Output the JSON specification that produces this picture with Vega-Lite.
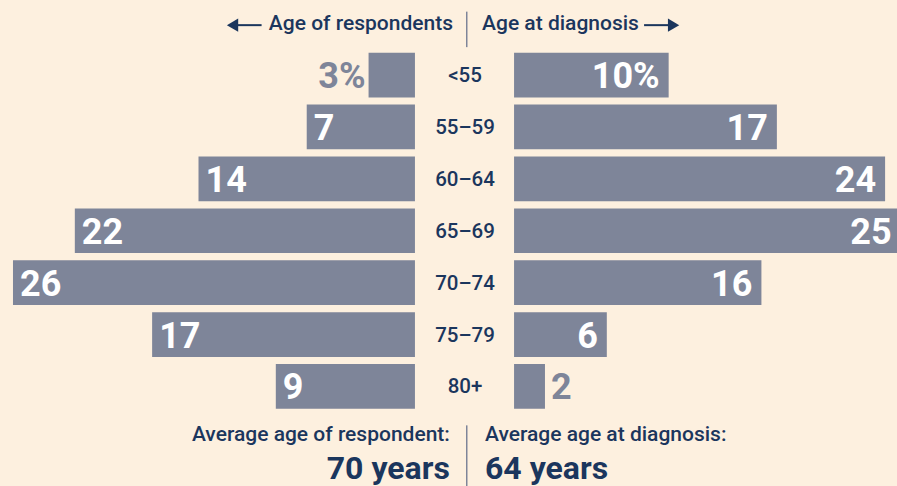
{
  "$schema": "https://vega.github.io/schema/vega-lite/v6.json",
  "width": 897,
  "height": 486,
  "autosize": "none",
  "padding": 0,
  "background": "#fdf0df",
  "config": {"view": {"stroke": null}, "font": "Roboto"},
  "data": {
    "values": [
      {"age": "<55", "respondents": 3, "diagnosis": 10},
      {"age": "55–59", "respondents": 7, "diagnosis": 17},
      {"age": "60–64", "respondents": 14, "diagnosis": 24},
      {"age": "65–69", "respondents": 22, "diagnosis": 25},
      {"age": "70–74", "respondents": 26, "diagnosis": 16},
      {"age": "75–79", "respondents": 17, "diagnosis": 6},
      {"age": "80+", "respondents": 9, "diagnosis": 2}
    ]
  },
  "encoding": {
    "y": {
      "field": "age",
      "type": "nominal",
      "sort": null,
      "axis": null,
      "scale": {
        "type": "band",
        "domain": ["hdr", "<55", "55–59", "60–64", "65–69", "70–74", "75–79", "80+", "ftr"],
        "range": [0.8, 460.7],
        "paddingInner": 0.139,
        "paddingOuter": 0
      }
    }
  },
  "layer": [
    {
      "layer": [
        {
          "mark": {"type": "bar", "color": "#7e8599"},
          "encoding": {
            "x": {"field": "respondents", "type": "quantitative", "axis": null, "scale": {"domain": [-31.18, 26.84], "reverse": true, "nice": false, "zero": false}},
            "x2": {"datum": 0}
          }
        },
        {
          "transform": [{"filter": "datum.respondents >= 5"}],
          "mark": {"type": "text", "align": "left", "baseline": "middle", "dx": 7, "dy": 2, "fontSize": 36, "fontWeight": "bold", "color": "#ffffff"},
          "encoding": {
            "x": {"field": "respondents", "type": "quantitative", "axis": null, "scale": {"domain": [-31.18, 26.84], "reverse": true, "nice": false, "zero": false}},
            "text": {"field": "respondents", "type": "quantitative"}
          }
        },
        {
          "transform": [
            {"filter": "datum.respondents < 5"},
            {"calculate": "datum.age == '<55' ? datum.respondents + '%' : '' + datum.respondents", "as": "lbl"}
          ],
          "mark": {"type": "text", "align": "right", "baseline": "middle", "dx": -3, "dy": 2, "fontSize": 36, "fontWeight": "bold", "color": "#7e8599"},
          "encoding": {
            "x": {"field": "respondents", "type": "quantitative", "axis": null, "scale": {"domain": [-31.18, 26.84], "reverse": true, "nice": false, "zero": false}},
            "text": {"field": "lbl", "type": "nominal"}
          }
        },
        {
          "data": {"values": [{"t": "Age of respondents"}]},
          "mark": {"type": "text", "align": "right", "baseline": "middle", "fontSize": 21, "fontWeight": 500, "color": "#1b365d", "dy": 1},
          "encoding": {
            "x": {"datum": -2.46, "type": "quantitative", "scale": {"domain": [-31.18, 26.84], "reverse": true, "nice": false, "zero": false}},
            "y": {"datum": "hdr"},
            "text": {"field": "t"}
          }
        },
        {
          "data": {"values": [{"a": 1}]},
          "mark": {"type": "rule", "color": "#1b365d", "strokeWidth": 2, "yOffset": 2},
          "encoding": {
            "x": {"datum": 9.92, "type": "quantitative", "scale": {"domain": [-31.18, 26.84], "reverse": true, "nice": false, "zero": false}},
            "x2": {"datum": 11.6},
            "y": {"datum": "hdr"}
          }
        },
        {
          "data": {"values": [{"a": 1}]},
          "mark": {"type": "point", "shape": "triangle-left", "filled": true, "opacity": 1, "size": 170, "color": "#1b365d", "yOffset": 2},
          "encoding": {
            "x": {"datum": 11.8, "type": "quantitative", "scale": {"domain": [-31.18, 26.84], "reverse": true, "nice": false, "zero": false}},
            "y": {"datum": "hdr"}
          }
        },
        {
          "data": {"values": [{"t": "Average age of respondent:"}]},
          "mark": {"type": "text", "align": "right", "baseline": "middle", "fontSize": 21, "fontWeight": 500, "color": "#1b365d", "dy": -3},
          "encoding": {
            "x": {"datum": -2.26, "type": "quantitative", "scale": {"domain": [-31.18, 26.84], "reverse": true, "nice": false, "zero": false}},
            "y": {"datum": "ftr"},
            "text": {"field": "t"}
          }
        },
        {
          "data": {"values": [{"t": "70 years"}]},
          "mark": {"type": "text", "align": "right", "baseline": "middle", "fontSize": 32, "fontWeight": "bold", "color": "#1b365d", "dy": 31},
          "encoding": {
            "x": {"datum": -2.26, "type": "quantitative", "scale": {"domain": [-31.18, 26.84], "reverse": true, "nice": false, "zero": false}},
            "y": {"datum": "ftr"},
            "text": {"field": "t"}
          }
        }
      ]
    },
    {
      "layer": [
        {
          "mark": {"type": "bar", "color": "#7e8599"},
          "encoding": {
            "x": {"field": "diagnosis", "type": "quantitative", "axis": null, "scale": {"domain": [-33.25, 24.77], "nice": false, "zero": false}},
            "x2": {"datum": 0}
          }
        },
        {
          "transform": [
            {"filter": "datum.diagnosis >= 5"},
            {"calculate": "datum.age == '<55' ? datum.diagnosis + '%' : '' + datum.diagnosis", "as": "lbl"}
          ],
          "mark": {"type": "text", "align": "right", "baseline": "middle", "dx": -9, "dy": 2, "fontSize": 36, "fontWeight": "bold", "color": "#ffffff"},
          "encoding": {
            "x": {"field": "diagnosis", "type": "quantitative", "axis": null, "scale": {"domain": [-33.25, 24.77], "nice": false, "zero": false}},
            "text": {"field": "lbl", "type": "nominal"}
          }
        },
        {
          "transform": [{"filter": "datum.diagnosis < 5"}],
          "mark": {"type": "text", "align": "left", "baseline": "middle", "dx": 6, "dy": 2, "fontSize": 36, "fontWeight": "bold", "color": "#7e8599"},
          "encoding": {
            "x": {"field": "diagnosis", "type": "quantitative", "axis": null, "scale": {"domain": [-33.25, 24.77], "nice": false, "zero": false}},
            "text": {"field": "diagnosis", "type": "quantitative"}
          }
        },
        {
          "mark": {"type": "text", "align": "center", "baseline": "middle", "fontSize": 20.5, "fontWeight": 500, "color": "#1b365d", "dy": 1},
          "encoding": {
            "x": {"datum": -3.17, "type": "quantitative", "axis": null, "scale": {"domain": [-33.25, 24.77], "nice": false, "zero": false}},
            "text": {"field": "age", "type": "nominal"}
          }
        },
        {
          "data": {"values": [{"t": "Age at diagnosis"}]},
          "mark": {"type": "text", "align": "left", "baseline": "middle", "fontSize": 21, "fontWeight": 500, "color": "#1b365d", "dy": 1},
          "encoding": {
            "x": {"datum": -2.07, "type": "quantitative", "scale": {"domain": [-33.25, 24.77], "nice": false, "zero": false}},
            "y": {"datum": "hdr"},
            "text": {"field": "t"}
          }
        },
        {
          "data": {"values": [{"a": 1}]},
          "mark": {"type": "rule", "color": "#1b365d", "strokeWidth": 2, "yOffset": 2},
          "encoding": {
            "x": {"datum": 8.41, "type": "quantitative", "scale": {"domain": [-33.25, 24.77], "nice": false, "zero": false}},
            "x2": {"datum": 10.1},
            "y": {"datum": "hdr"}
          }
        },
        {
          "data": {"values": [{"a": 1}]},
          "mark": {"type": "point", "shape": "triangle-right", "filled": true, "opacity": 1, "size": 170, "color": "#1b365d", "yOffset": 2},
          "encoding": {
            "x": {"datum": 10.32, "type": "quantitative", "scale": {"domain": [-33.25, 24.77], "nice": false, "zero": false}},
            "y": {"datum": "hdr"}
          }
        },
        {
          "data": {"values": [{"a": 1}]},
          "mark": {"type": "rule", "color": "#7e8599", "strokeWidth": 1.5, "yOffset": -11.5, "y2Offset": 24},
          "encoding": {
            "x": {"datum": -3.06, "type": "quantitative", "scale": {"domain": [-33.25, 24.77], "nice": false, "zero": false}},
            "y": {"datum": "hdr"},
            "y2": {"datum": "hdr"}
          }
        },
        {
          "data": {"values": [{"a": 1}]},
          "mark": {"type": "rule", "color": "#7e8599", "strokeWidth": 1.5, "yOffset": -13, "y2Offset": 50},
          "encoding": {
            "x": {"datum": -3.06, "type": "quantitative", "scale": {"domain": [-33.25, 24.77], "nice": false, "zero": false}},
            "y": {"datum": "ftr"},
            "y2": {"datum": "ftr"}
          }
        },
        {
          "data": {"values": [{"t": "Average age at diagnosis:"}]},
          "mark": {"type": "text", "align": "left", "baseline": "middle", "fontSize": 21, "fontWeight": 500, "color": "#1b365d", "dy": -3},
          "encoding": {
            "x": {"datum": -1.88, "type": "quantitative", "scale": {"domain": [-33.25, 24.77], "nice": false, "zero": false}},
            "y": {"datum": "ftr"},
            "text": {"field": "t"}
          }
        },
        {
          "data": {"values": [{"t": "64 years"}]},
          "mark": {"type": "text", "align": "left", "baseline": "middle", "fontSize": 32, "fontWeight": "bold", "color": "#1b365d", "dy": 31},
          "encoding": {
            "x": {"datum": -1.88, "type": "quantitative", "scale": {"domain": [-33.25, 24.77], "nice": false, "zero": false}},
            "y": {"datum": "ftr"},
            "text": {"field": "t"}
          }
        }
      ]
    }
  ],
  "resolve": {"scale": {"x": "independent"}}
}
